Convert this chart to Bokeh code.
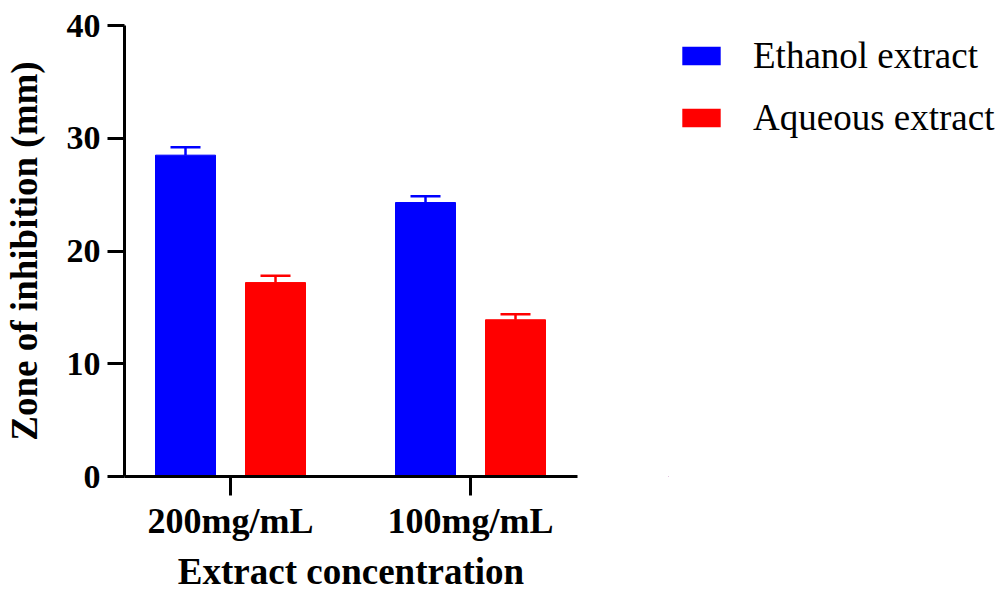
from bokeh.plotting import figure
from bokeh.layouts import row
from bokeh.models import (ColumnDataSource, FixedTicker, Whisker, TeeHead,
                          Legend, LegendItem, Range1d)
from bokeh.embed import file_html
from bokeh.resources import INLINE

# Zone of inhibition (mm), mean and error, per extract concentration
concentrations = ["200mg/mL", "100mg/mL"]
series_names = ["Ethanol extract", "Aqueous extract"]
ethanol_mean = [28.5, 24.3]
ethanol_err = [0.7, 0.55]
aqueous_mean = [17.2, 13.9]
aqueous_err = [0.6, 0.5]
series_colors = ["#0000FF", "#FF0000"]
y_ticks = [0, 10, 20, 30, 40]

FONT = "Liberation Serif"
BAR_W = 0.25
OFFSETS = [-0.1875, 0.1875]

p = figure(width=600, height=595, output_backend="svg", toolbar_location=None,
           x_range=Range1d(-0.4417, 1.4458), y_range=Range1d(0, 40),
           min_border_left=124, min_border_right=23,
           min_border_top=25, min_border_bottom=119)
p.outline_line_color = None
p.xgrid.visible = False
p.ygrid.visible = False
p.background_fill_color = "white"
p.border_fill_color = "white"

sources = []
for name, means, errs, color, off in zip(series_names,
                                         [ethanol_mean, aqueous_mean],
                                         [ethanol_err, aqueous_err],
                                         series_colors, OFFSETS):
    xs = [i + off for i in range(len(concentrations))]
    src = ColumnDataSource(dict(x=xs, top=means,
                                upper=[m + e for m, e in zip(means, errs)]))
    sources.append(src)
    p.vbar(x="x", top="top", width=BAR_W, bottom=0, source=src,
           fill_color=color, line_color=color, line_width=1)
    w = Whisker(base="x", lower="top", upper="upper", source=src,
                line_color=color, line_width=2.5,
                upper_head=TeeHead(size=30, line_color=color, line_width=2.5),
                lower_head=None)
    p.add_layout(w)

# axes
for ax in (p.xaxis[0], p.yaxis[0]):
    ax.axis_line_width = 3
    ax.axis_line_color = "black"
    ax.major_tick_line_width = 3
    ax.major_tick_line_color = "black"
    ax.major_tick_in = 0
    ax.minor_tick_line_color = None
    ax.major_label_text_font = FONT
    ax.major_label_text_font_style = "bold"
    ax.major_label_text_color = "black"
    ax.axis_label_text_font = FONT
    ax.axis_label_text_font_style = "bold"
    ax.axis_label_text_color = "black"

p.yaxis.ticker = FixedTicker(ticks=y_ticks)
p.yaxis.major_tick_out = 17
p.yaxis.major_label_text_font_size = "34px"
p.yaxis.major_label_standoff = 7
p.yaxis.axis_label = "Zone of inhibition (mm)"
p.yaxis.axis_label_text_font_size = "37px"
p.yaxis.axis_label_standoff = 19

p.xaxis.ticker = FixedTicker(ticks=list(range(len(concentrations))))
p.xaxis.major_label_overrides = {i: c for i, c in enumerate(concentrations)}
p.xaxis.major_tick_out = 19
p.xaxis.major_label_text_font_size = "36px"
p.xaxis.major_label_standoff = 5
p.xaxis.axis_label = "Extract concentration"
p.xaxis.axis_label_text_font_size = "37px"
p.xaxis.axis_label_standoff = 7

# legend panel to the right of the chart; its bar renderers lie far
# outside the visible ranges so only the legend swatches show
lf = figure(width=400, height=595, output_backend="svg", toolbar_location=None,
            x_range=Range1d(100, 101), y_range=Range1d(1000, 1001),
            min_border_left=68, min_border_top=25, min_border_right=0,
            min_border_bottom=119, outline_line_color=None)
lf.axis.visible = False
lf.xgrid.visible = False
lf.ygrid.visible = False
legend_items = []
for name, color, src in zip(series_names, series_colors, sources):
    r = lf.vbar(x="x", top="top", width=BAR_W, bottom=0, source=src,
                fill_color=color, line_color=None)
    legend_items.append(LegendItem(label=name, renderers=[r]))

legend = Legend(items=legend_items, location="top_left",
                glyph_width=48, glyph_height=23, label_standoff=28,
                spacing=19, padding=0, margin=9,
                label_text_font=FONT, label_text_font_size="37px",
                label_text_color="black",
                border_line_color=None, background_fill_alpha=0)
lf.add_layout(legend)

layout = row(p, lf, spacing=0)
open("out.html", "w").write(file_html(layout, INLINE))
